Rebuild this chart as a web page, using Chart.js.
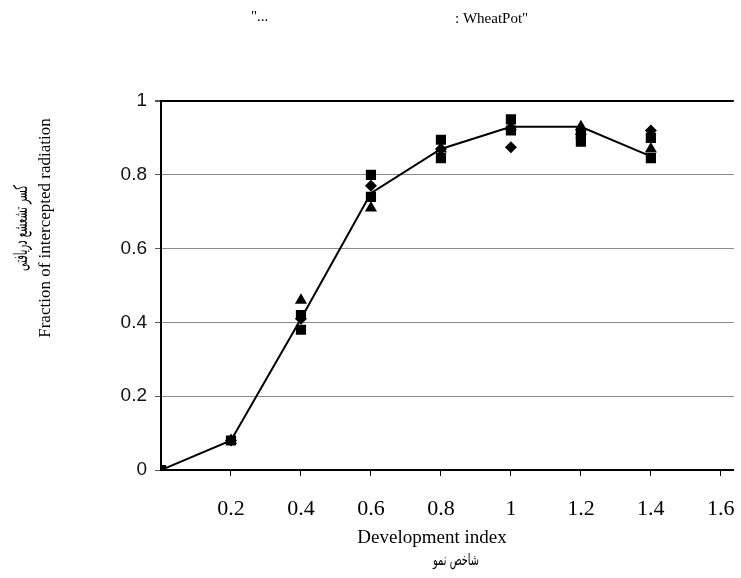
<!DOCTYPE html>
<html>
<head>
<meta charset="utf-8">
<script src="https://cdn.jsdelivr.net/npm/chart.js@4/dist/chart.umd.min.js"></script>
<style>
  html, body { margin: 0; padding: 0; background: #fff; }
  #wrap { width: 741px; height: 578px; }
</style>
</head>
<body>
<div id="wrap"><canvas id="Chart1" width="741" height="578"></canvas></div>
<script>
// development index of the fitted curve
const devIndex = [0, 0.2, 0.4, 0.6, 0.8, 1.0, 1.2, 1.4];
const fitted = [0, 0.08, 0.41, 0.75, 0.87, 0.93, 0.93, 0.85];

// observed points (squares)
const squareX = [0, 0.2, 0.4, 0.4, 0.6, 0.6, 0.8, 0.8, 1.0, 1.0, 1.2, 1.2, 1.4, 1.4];
const squareY = [0, 0.08, 0.42, 0.38, 0.80, 0.74, 0.895, 0.845, 0.95, 0.92, 0.91, 0.89, 0.90, 0.845];

// observed points (diamonds)
const diamondX = [0.2, 0.4, 0.6, 0.8, 1.0, 1.2, 1.4];
const diamondY = [0.08, 0.41, 0.77, 0.87, 0.875, 0.91, 0.92];

// observed points (triangles)
const triangleX = [0.2, 0.4, 0.6, 0.8, 1.0, 1.2, 1.4];
const triangleY = [0.08, 0.46, 0.71, 0.87, 0.93, 0.93, 0.87];

const xTicks = [0.2, 0.4, 0.6, 0.8, 1, 1.2, 1.4, 1.6];
const yTicks = [0, 0.2, 0.4, 0.6, 0.8, 1];

const chartTitle = ['"...', ': WheatPot"'];
const xTitle = ['Development index', 'شاخص نمو'];
const yTitle = ['کسر تشعشع دریافتی', 'Fraction of intercepted radiation'];

const toPoints = (xs, ys) => xs.map((x, i) => ({ x: x, y: ys[i] }));

// squeeze a piece of text to a given width (the original arabic font is narrow)
const fitText = (c, text, x, y, width) => {
  const w = c.measureText(text).width;
  c.save();
  c.translate(x, y);
  c.scale(width / w, 1);
  c.fillText(text, 0, 0);
  c.restore();
};

// titles drawn by hand so they can sit where the original put them
const titlesPlugin = {
  id: 'titles',
  afterDraw: (chart) => {
    const c = chart.ctx;
    c.save();
    c.fillStyle = '#000';
    c.textBaseline = 'middle';

    c.font = '15px "Liberation Serif"';
    c.textAlign = 'left';
    c.fillText(chartTitle[0], 251, 17);
    c.fillText(chartTitle[1], 455, 19);

    c.textAlign = 'center';
    c.font = '19px "Liberation Serif"';
    c.fillText(xTitle[0], 432, 538);
    c.font = '16px "DejaVu Sans"';
    fitText(c, xTitle[1], 456, 561, 46);

    c.translate(46, 228);
    c.rotate(-Math.PI / 2);
    c.font = '17px "Liberation Serif"';
    c.fillText(yTitle[1], 0, 0);
    c.font = '19px "DejaVu Sans"';
    fitText(c, yTitle[0], 0, -24, 86);
    c.restore();
  }
};

let ctx1 = document.getElementById('Chart1');
new Chart(ctx1, {
  type: 'scatter',
  data: {
    datasets: [
      {
        label: 'fit',
        data: toPoints(devIndex, fitted),
        showLine: true,
        borderColor: '#000',
        borderWidth: 2,
        pointRadius: 0,
        fill: false,
        tension: 0
      },
      {
        label: 'squares',
        data: toPoints(squareX, squareY),
        pointStyle: 'rect',
        pointRadius: 7.2,
        backgroundColor: '#000',
        borderColor: '#000',
        borderWidth: 0
      },
      {
        label: 'diamonds',
        data: toPoints(diamondX, diamondY),
        pointStyle: 'rectRot',
        pointRadius: 6,
        backgroundColor: '#000',
        borderColor: '#000',
        borderWidth: 0
      },
      {
        label: 'triangles',
        data: toPoints(triangleX, triangleY),
        pointStyle: 'triangle',
        pointRadius: 7,
        backgroundColor: '#000',
        borderColor: '#000',
        borderWidth: 0
      }
    ]
  },
  options: {
    responsive: false,
    animation: false,
    layout: { padding: { top: 101, right: 7, left: 0, bottom: 0 } },
    plugins: {
      legend: { display: false },
      tooltip: { enabled: false }
    },
    scales: {
      x: {
        type: 'linear',
        min: 0,
        max: 1.637,
        afterBuildTicks: (scale) => { scale.ticks = xTicks.map(v => ({ value: v })); },
        afterFit: (scale) => {
          scale.height = 108;
          scale.paddingLeft = 0;
          scale.paddingRight = 0;
        },
        grid: { drawOnChartArea: false, drawTicks: true, tickLength: 6, color: '#000', lineWidth: 1 },
        border: { color: '#000', width: 2 },
        ticks: {
          padding: 20,
          color: '#000',
          font: { family: 'Liberation Serif', size: 22 },
          callback: (v) => String(Math.round(v * 10) / 10)
        }
      },
      y: {
        type: 'linear',
        min: 0,
        max: 1,
        afterBuildTicks: (scale) => { scale.ticks = yTicks.map(v => ({ value: v })); },
        afterFit: (scale) => { scale.width = 161; },
        grid: {
          color: (c) => (c.tick && c.tick.value === 1 ? '#000' : '#8a8a8a'),
          lineWidth: (c) => (c.tick && c.tick.value === 1 ? 2 : 1),
          tickLength: 6,
          tickColor: '#555'
        },
        border: { color: '#000', width: 2 },
        ticks: {
          padding: 8,
          color: '#111',
          font: { family: 'Liberation Sans', size: 19 },
          callback: (v) => String(Math.round(v * 10) / 10)
        }
      }
    }
  },
  plugins: [titlesPlugin]
});
</script>
</body>
</html>
